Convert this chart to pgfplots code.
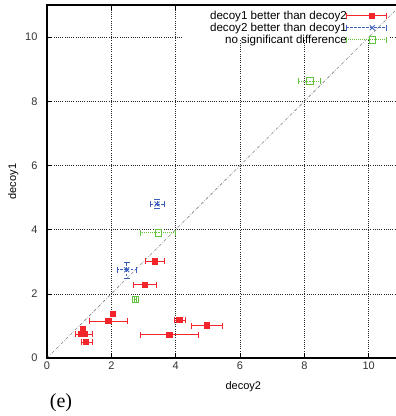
\documentclass[border=0pt]{standalone}
\usepackage{pgfplots}
\pgfplotsset{compat=1.18}
\usepackage{fontspec}
\setmainfont{Liberation Sans}
\newfontfamily\seriffont{Liberation Serif}
\definecolor{cred}{RGB}{242,38,42}
\definecolor{cblue}{RGB}{60,95,185}
\definecolor{cgreen}{RGB}{100,195,60}
\begin{document}
\begin{tikzpicture}[x=1pt,y=1pt]
\begin{axis}[
  name=ax,
  at={(47pt,58pt)}, anchor=south west,
  scale only axis, width=349pt, height=353pt,
  xmin=0, xmax=10.85, ymin=0, ymax=11,
  xtick={0,2,...,10}, ytick={0,2,...,10},
  xtick pos=both, ytick pos=left,
  tick align=inside, major tick length=5pt,
  tick style={black, line width=0.6pt},
  axis line style={draw=none},
  grid=major,
  grid style={black!85, dash pattern=on 0.8pt off 1.4pt, line width=0.6pt},
  /pgf/number format/assume math mode=true,
  tick label style={font=\fontsize{11}{13}\selectfont, text=black!80},
  yticklabel style={xshift=-6pt},
  xlabel={decoy2}, ylabel={decoy1},
  label style={font=\fontsize{11}{13}\selectfont},
  xlabel style={at={(ticklabel cs:0.5625)}, yshift=-5pt},
  clip=false,
  legend cell align=right,
  legend plot pos=right,
  legend style={at={(rel axis cs:1,1)}, anchor=north east, xshift=-6pt, yshift=-1.5pt,
    draw=none, fill=none, column sep=-3pt,
    font=\fontsize{11.6}{12}\selectfont, row sep=-1.8pt},
]
\fill[white] (axis cs:4.21,9.9) rectangle (axis cs:10.66,10.99);
\addplot[forget plot, gray, line width=0.6pt, dash pattern=on 3pt off 1.5pt on 0.6pt off 1.5pt] coordinates {(0,0) (10.85,10.85)};

\addplot[only marks, mark=square*, mark size=2.6pt, color=cred, line width=1pt,
  legend image code/.code={
    \draw[cred, line width=1pt] (0pt,0pt) -- (40pt,0pt) (0pt,-3pt) -- (0pt,3pt) (40pt,-3pt) -- (40pt,3pt);
    \draw[cred, fill=cred, mark=square*, mark size=2.6pt] plot coordinates {(26pt,0pt)};
  },
  error bars/.cd, x dir=both, x explicit,
  error bar style={line width=1pt, cred},
  error mark options={rotate=90, mark size=3pt, line width=1pt, cred}]
  table[x=x, y=y, x error minus=em, x error plus=ep] {
x y em ep
3.36 3.01 0.30 0.29
3.05 2.28 0.35 0.35
2.05 1.38 0.05 0.05
1.91 1.15 0.59 0.58
4.12 1.18 0.15 0.19
4.98 1.01 0.48 0.49
3.81 0.72 0.89 0.91
1.12 0.91 0.06 0.06
1.06 0.74 0.18 0.19
1.19 0.74 0.18 0.21
1.21 0.49 0.15 0.19
};
\addlegendentry{decoy1 better than decoy2}

\addplot[only marks, mark=x, mark size=3.5pt, color=cblue, line width=0.9pt,
  legend image code/.code={
    \draw[cblue, line width=0.9pt, dash pattern=on 2.5pt off 1.5pt] (0pt,0pt) -- (40pt,0pt);
    \draw[cblue, line width=0.9pt] (0pt,-3pt) -- (0pt,3pt) (40pt,-3pt) -- (40pt,3pt);
    \draw[cblue, line width=0.9pt, mark=x, mark size=3.5pt] plot coordinates {(26pt,0pt)};
  },
  error bars/.cd, x dir=both, x explicit, y dir=both, y explicit,
  error bar style={line width=0.9pt, cblue, dash pattern=on 2.5pt off 1.5pt},
  error mark options={rotate=90, mark size=3pt, line width=0.9pt, cblue, solid}]
  table[x=x, y=y, x error minus=xm, x error plus=xp, y error minus=ym, y error plus=yp] {
x y xm xp ym yp
3.42 4.80 0.20 0.23 0.14 0.14
2.48 2.75 0.28 0.31 0.26 0.24
};
\addlegendentry{decoy2 better than decoy1}

\addplot[only marks, mark=square, mark size=3.3pt, color=cgreen, line width=0.9pt,
  legend image code/.code={
    \draw[cgreen, line width=0.9pt, dash pattern=on 0.8pt off 1.2pt] (0pt,0pt) -- (40pt,0pt);
    \draw[cgreen, line width=0.9pt] (0pt,-3pt) -- (0pt,3pt) (40pt,-3pt) -- (40pt,3pt);
    \draw[cgreen, line width=0.9pt, mark=square, mark size=3.3pt, mark options={draw=cgreen}] plot coordinates {(26pt,0pt)};
  },
  error bars/.cd, x dir=both, x explicit,
  error bar style={line width=0.9pt, cgreen, dash pattern=on 0.8pt off 1.2pt},
  error mark options={rotate=90, mark size=3pt, line width=0.9pt, cgreen, solid}]
  table[x=x, y=y, x error minus=em, x error plus=ep] {
x y em ep
3.47 3.90 0.56 0.53
2.75 1.83 0.04 0.04
8.17 8.63 0.34 0.33
};
\addlegendentry{no significant difference}
\end{axis}
\draw[black, line width=1.1pt] (ax.north east) -- (ax.north west) -- (ax.south west) -- (ax.south east);
\node[font=\seriffont\fontsize{20}{22}\selectfont] at (61,13.5) {(e)};
\pgfresetboundingbox
\path[use as bounding box] (0,0) rectangle (396,416);
\end{tikzpicture}
\end{document}
